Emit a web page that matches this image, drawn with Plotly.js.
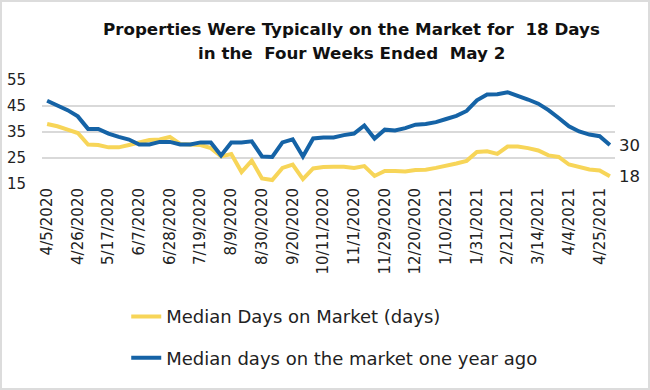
<!DOCTYPE html>
<html>
<head>
<meta charset="utf-8">
<script src="https://cdn.plot.ly/plotly-3.0.1.min.js"></script>
<style>
html,body{margin:0;padding:0;background:#fff;}
#chart{width:646px;height:386px;border:2px solid #dcdcdc;}
</style>
</head>
<body>
<div id="chart"></div>
<script>
var weeks = ["4/5/2020","4/12/2020","4/19/2020","4/26/2020","5/3/2020","5/10/2020","5/17/2020","5/24/2020","5/31/2020","6/7/2020",
"6/14/2020","6/21/2020","6/28/2020","7/5/2020","7/12/2020","7/19/2020","7/26/2020","8/2/2020","8/9/2020","8/16/2020",
"8/23/2020","8/30/2020","9/6/2020","9/13/2020","9/20/2020","9/27/2020","10/4/2020","10/11/2020","10/18/2020","10/25/2020",
"11/1/2020","11/8/2020","11/15/2020","11/29/2020","12/6/2020","12/13/2020","12/20/2020","12/27/2020","1/3/2021","1/10/2021",
"1/17/2021","1/24/2021","1/31/2021","2/7/2021","2/14/2021","2/21/2021","2/28/2021","3/7/2021","3/14/2021","3/21/2021",
"3/28/2021","4/4/2021","4/11/2021","4/18/2021","4/25/2021","5/2/2021"];

var medianDays = [38.1,37.2,35.9,34.6,30.2,30,29.1,29.1,30,31,
31.9,32.1,33.1,30.4,30.2,30,28.8,25.6,26.5,19.6,
24,17.1,16.5,21.2,22.5,16.9,21,21.5,21.6,21.6,
21.2,21.9,18.1,20,20,19.8,20.4,20.5,21.2,21.9,
22.9,23.9,27.3,27.6,26.6,29.4,29.4,28.8,27.9,26,
25.4,22.5,21.5,20.6,20.2,18];

var medianDaysYearAgo = [47,45.4,43.4,41,36.2,36.2,34.4,33.1,32.1,30.2,
30.2,31.2,31.2,30.2,30.2,31,31,26,31,31,
31.4,25.6,25.4,31,32.2,25.6,32.5,32.9,32.9,33.8,
34.4,37.5,32.5,35.9,35.6,36.5,37.8,38.1,38.8,40,
41.2,43.1,47.2,49.4,49.5,50.3,49.1,47.5,45.9,43.4,
40.4,37.2,35.2,34,33.4,30];

var yTicks = [15,25,35,45,55];
var xTickLabels = weeks.filter(function(d,i){return i%3===0;});

var seriesNames = ["Median Days on Market (days)","Median days on the market one year ago"];
var endLabels = ["18","30"];
var titleLines = ["Properties Were Typically on the Market for\u00A0 18 Days",
                  "in the\u00A0 Four Weeks Ended\u00A0 May 2"];

var FONT = "DejaVu Sans, sans-serif";
var yellow = "#F7D558";
var blue = "#1563A6";

var traces = [
  {x: weeks, y: medianDays, type: "scatter", mode: "lines", name: seriesNames[0],
   line: {color: yellow, width: 4}, legendgroup: "a"},
  {x: weeks, y: medianDaysYearAgo, type: "scatter", mode: "lines", name: seriesNames[1],
   line: {color: blue, width: 4}, legendgroup: "b"}
];

var last = weeks.length - 1;
var layout = {
  width: 646, height: 386,
  margin: {l: 40, r: 33, t: 78, b: 201},
  paper_bgcolor: "#fff", plot_bgcolor: "#fff",
  font: {family: FONT, color: "#222"},
  xaxis: {
    type: "category",
    range: [-0.5, weeks.length - 0.5],
    tickmode: "array", tickvals: xTickLabels, ticktext: xTickLabels,
    tickangle: -90, tickfont: {family: FONT, size: 15, color: "#222"},
    showgrid: false, zeroline: false, showline: false, ticks: ""
  },
  yaxis: {
    range: [15, 55], tickvals: yTicks,
    tickfont: {family: FONT, size: 15, color: "#222"},
    showgrid: true, gridcolor: "#d9d9d9", gridwidth: 1.5,
    zeroline: false, showline: false, ticks: "", ticklabelstandoff: 15
  },
  showlegend: true,
  legend: {
    orientation: "v", x: 0.147, xanchor: "left", y: -1.098, yanchor: "top",
    bgcolor: "rgba(0,0,0,0)",
    font: {family: FONT, size: 18, color: "#222"},
    traceorder: "grouped", tracegroupgap: 15, itemwidth: 30
  },
  annotations: [
    {xref: "paper", yref: "paper", x: 0.541, y: 1.49, text: "<b>" + titleLines[0] + "</b>",
     showarrow: false, xanchor: "center", yanchor: "middle",
     font: {family: FONT, size: 16.7, color: "#111"}},
    {xref: "paper", yref: "paper", x: 0.541, y: 1.255, text: "<b>" + titleLines[1] + "</b>",
     showarrow: false, xanchor: "center", yanchor: "middle",
     font: {family: FONT, size: 16.7, color: "#111"}},
    {x: weeks[last], y: medianDays[last], text: endLabels[0], showarrow: false,
     xanchor: "left", xshift: 7, font: {family: FONT, size: 16.5, color: "#222"}},
    {x: weeks[last], y: medianDaysYearAgo[last], text: endLabels[1], showarrow: false,
     xanchor: "left", xshift: 7, font: {family: FONT, size: 16.5, color: "#222"}}
  ]
};

Plotly.newPlot("chart", traces, layout, {displayModeBar: false, staticPlot: true});
</script>
</body>
</html>
